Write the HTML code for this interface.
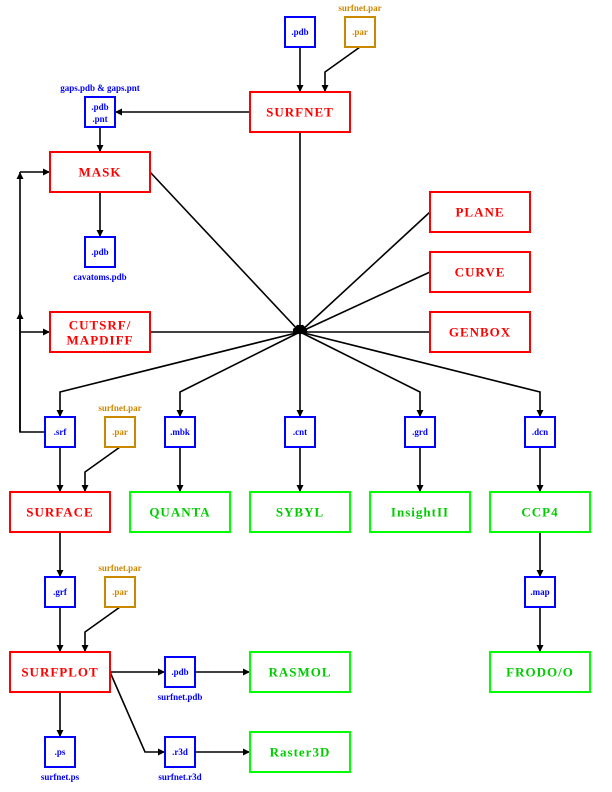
<!DOCTYPE html>
<html><head><meta charset="utf-8"><style>
html,body{margin:0;padding:0;background:#fff;}
svg{display:block;}
text{font-family:"Liberation Serif",serif;font-weight:bold;text-anchor:middle;dominant-baseline:central;}
.r{fill:none;stroke:#f00;stroke-width:2}
.g{fill:none;stroke:#0f0;stroke-width:2}
.b{fill:none;stroke:#00f;stroke-width:2}
.o{fill:none;stroke:#c80;stroke-width:2}
.l{stroke:#000;stroke-width:1.6;fill:none}
.tr{fill:#f00;font-size:13px;letter-spacing:1px}
.tg{fill:#0c0;font-size:13px;letter-spacing:1px}
.tb{fill:#00f;font-size:9px}
.to{fill:#c80;font-size:9px}
</style></head><body>
<svg width="612" height="792" viewBox="0 0 612 792" xmlns="http://www.w3.org/2000/svg">
<defs><marker id="a" markerWidth="7" markerHeight="7" refX="7" refY="3.5" orient="auto" markerUnits="userSpaceOnUse"><path d="M0,0 L7,3.5 L0,7z" fill="#000"/></marker></defs>
<g class="l" marker-end="url(#a)">
<path d="M300,47 V92"/>
<path d="M360,47 L325,72 V92"/>
<path d="M250,112 H115"/>
<path d="M100,127 V152"/>
<path d="M100,192 V237"/>
<path d="M150,172 L300,332"/>
<path d="M300,132 V332"/>
<path d="M430,212 L300,332"/>
<path d="M430,272 L300,332"/>
<path d="M430,332 H300"/>
<path d="M150,332 H300"/>
<path d="M300,332 L60,392 V417"/>
<path d="M300,332 L180,392 V417"/>
<path d="M300,332 V417"/>
<path d="M300,332 L420,392 V417"/>
<path d="M300,332 L540,392 V417"/>
<path d="M45,432 H20 V172"/>
<path d="M20,172 H50"/>
<path d="M20,332 H50"/>
<path d="M20,432 V312"/>
<path d="M60,447 V492"/>
<path d="M120,447 L85,472 V492"/>
<path d="M180,447 V492"/>
<path d="M300,447 V492"/>
<path d="M420,447 V492"/>
<path d="M540,447 V492"/>
<path d="M540,532 V577"/>
<path d="M540,607 V652"/>
<path d="M60,532 V577"/>
<path d="M60,607 V652"/>
<path d="M120,607 L85,632 V652"/>
<path d="M60,692 V737"/>
<path d="M110,672 H165"/>
<path d="M195,672 H250"/>
<path d="M110,672 L145,752 H165"/>
<path d="M195,752 H250"/>
</g>
<circle cx="300" cy="332" r="2.5" fill="#000"/>
<rect class="r" x="250" y="92" width="100" height="40"/><text class="tr" x="300" y="112">SURFNET</text>
<rect class="r" x="50" y="152" width="100" height="40"/><text class="tr" x="100" y="172">MASK</text>
<rect class="r" x="50" y="312" width="100" height="40"/><text class="tr" x="100" y="325">CUTSRF/</text><text class="tr" x="100" y="340">MAPDIFF</text>
<rect class="r" x="430" y="192" width="100" height="40"/><text class="tr" x="480" y="212">PLANE</text>
<rect class="r" x="430" y="252" width="100" height="40"/><text class="tr" x="480" y="272">CURVE</text>
<rect class="r" x="430" y="312" width="100" height="40"/><text class="tr" x="480" y="332">GENBOX</text>
<rect class="r" x="10" y="492" width="100" height="40"/><text class="tr" x="60" y="512">SURFACE</text>
<rect class="r" x="10" y="652" width="100" height="40"/><text class="tr" x="60" y="672">SURFPLOT</text>
<rect class="g" x="130" y="492" width="100" height="40"/><text class="tg" x="180" y="512">QUANTA</text>
<rect class="g" x="250" y="492" width="100" height="40"/><text class="tg" x="300" y="512">SYBYL</text>
<rect class="g" x="370" y="492" width="100" height="40"/><text class="tg" x="420" y="512">InsightII</text>
<rect class="g" x="490" y="492" width="100" height="40"/><text class="tg" x="540" y="512">CCP4</text>
<rect class="g" x="490" y="652" width="100" height="40"/><text class="tg" x="540" y="672">FRODO/O</text>
<rect class="g" x="250" y="652" width="100" height="40"/><text class="tg" x="300" y="672">RASMOL</text>
<rect class="g" x="250" y="732" width="100" height="40"/><text class="tg" x="300" y="752">Raster3D</text>
<rect class="b" x="285" y="17" width="30" height="30"/><text class="tb" x="300" y="32">.pdb</text>
<rect class="o" x="345" y="17" width="30" height="30"/><text class="to" x="360" y="32">.par</text><text class="to" x="360" y="8">surfnet.par</text>
<rect class="b" x="85" y="97" width="30" height="30"/><text class="tb" x="100" y="107">.pdb</text><text class="tb" x="100" y="119">.pnt</text><text class="tb" x="100" y="88">gaps.pdb &amp; gaps.pnt</text>
<rect class="b" x="85" y="237" width="30" height="30"/><text class="tb" x="100" y="252">.pdb</text><text class="tb" x="100" y="277">cavatoms.pdb</text>
<rect class="b" x="45" y="417" width="30" height="30"/><text class="tb" x="60" y="432">.srf</text>
<rect class="o" x="105" y="417" width="30" height="30"/><text class="to" x="120" y="432">.par</text><text class="to" x="120" y="408">surfnet.par</text>
<rect class="b" x="165" y="417" width="30" height="30"/><text class="tb" x="180" y="432">.mbk</text>
<rect class="b" x="285" y="417" width="30" height="30"/><text class="tb" x="300" y="432">.cnt</text>
<rect class="b" x="405" y="417" width="30" height="30"/><text class="tb" x="420" y="432">.grd</text>
<rect class="b" x="525" y="417" width="30" height="30"/><text class="tb" x="540" y="432">.dcn</text>
<rect class="b" x="525" y="577" width="30" height="30"/><text class="tb" x="540" y="592">.map</text>
<rect class="b" x="45" y="577" width="30" height="30"/><text class="tb" x="60" y="592">.grf</text>
<rect class="o" x="105" y="577" width="30" height="30"/><text class="to" x="120" y="592">.par</text><text class="to" x="120" y="568">surfnet.par</text>
<rect class="b" x="165" y="657" width="30" height="30"/><text class="tb" x="180" y="672">.pdb</text><text class="tb" x="180" y="697">surfnet.pdb</text>
<rect class="b" x="45" y="737" width="30" height="30"/><text class="tb" x="60" y="752">.ps</text><text class="tb" x="60" y="777">surfnet.ps</text>
<rect class="b" x="165" y="737" width="30" height="30"/><text class="tb" x="180" y="752">.r3d</text><text class="tb" x="180" y="777">surfnet.r3d</text>
</svg>
</body></html>
